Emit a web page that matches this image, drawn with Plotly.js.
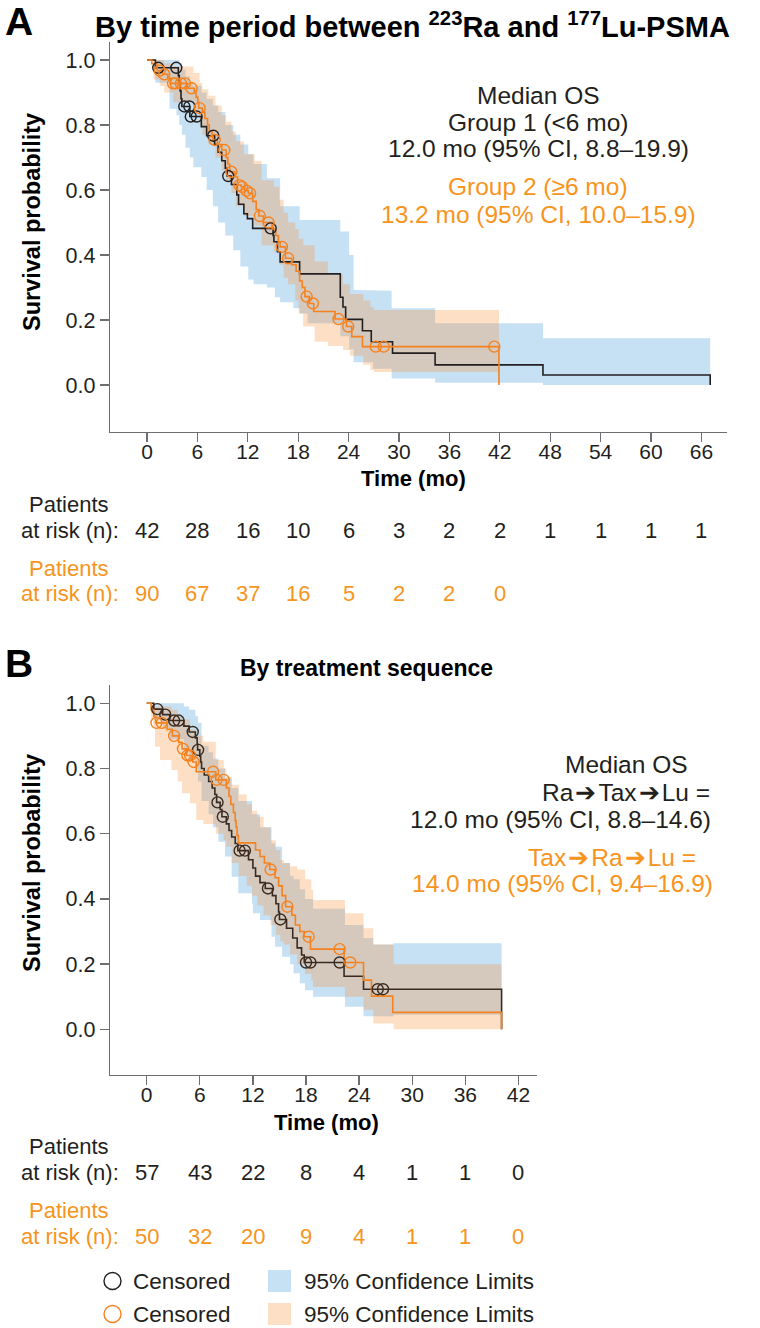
<!DOCTYPE html>
<html><head><meta charset="utf-8">
<script src="https://cdn.plot.ly/plotly-3.0.1.min.js"></script>
<style>html,body{margin:0;padding:0;background:#fff}</style>
</head><body><div id="chart" style="width:760px;height:1328px"></div>
<script>
// ---------- Panel A: by time period between 223Ra and 177Lu-PSMA ----------
const A_g1_time = [0, 1.0, 3.73, 3.84, 3.94, 4.05, 4.15, 5.10, 6.47, 7.10, 8.05, 8.47, 8.90, 9.32, 9.53, 10.05, 10.69, 10.90, 11.53, 11.95, 12.58, 15.01, 15.11, 15.53, 15.85, 18.17, 23.01, 23.33, 23.65, 25.65, 26.70, 29.23, 34.3, 47.14];
const A_g1_surv = [1.0, 0.976, 0.952, 0.929, 0.905, 0.881, 0.857, 0.826, 0.795, 0.767, 0.74, 0.716, 0.69, 0.667, 0.643, 0.617, 0.585, 0.556, 0.527, 0.512, 0.482, 0.46, 0.441, 0.41, 0.379, 0.342, 0.27, 0.24, 0.202, 0.167, 0.133, 0.098, 0.062, 0.031];
const A_g1_end = 67.05;
const A_g1_cens = [1.34, 3.49, 4.44, 5.04, 5.21, 5.91, 7.89, 9.67, 14.72];
const A_g1_ci_time = [0, 1.0, 2.68, 3.52, 3.84, 4.15, 4.58, 5.10, 5.52, 6.47, 7.10, 7.84, 8.47, 9.32, 10.27, 11.11, 12.06, 12.69, 14.27, 15.22, 15.85, 17.43, 18.17, 19.12, 23.01, 24.07, 24.59, 26.91, 29.12, 34.3, 47.14];
const A_g1_ci_low = [1.0, 0.93, 0.85, 0.83, 0.80, 0.77, 0.73, 0.70, 0.67, 0.64, 0.60, 0.55, 0.50, 0.46, 0.415, 0.365, 0.325, 0.31, 0.30, 0.27, 0.255, 0.236, 0.22, 0.19, 0.15, 0.11, 0.07, 0.05, 0.02, 0.007, 0.0];
const A_g1_ci_up = [1.0, 1.0, 1.0, 1.0, 0.99, 0.97, 0.95, 0.93, 0.92, 0.90, 0.88, 0.86, 0.84, 0.80, 0.77, 0.74, 0.71, 0.68, 0.636, 0.636, 0.55, 0.55, 0.508, 0.508, 0.472, 0.40, 0.292, 0.29, 0.236, 0.19, 0.144];

const A_g2_time = [0, 0.57, 1.2, 1.84, 2.47, 2.78, 4.79, 5.63, 5.84, 6.05, 6.16, 6.58, 6.89, 7.21, 7.42, 7.74, 7.84, 8.37, 8.90, 9.42, 9.63, 9.84, 10.48, 10.79, 11.21, 11.63, 12.06, 12.58, 13.0, 13.32, 13.85, 14.9, 15.32, 15.64, 15.85, 16.48, 17.22, 17.75, 18.17, 18.48, 18.80, 19.33, 19.85, 22.38, 23.75, 24.38, 25.65];
const A_g2_surv = [1.0, 0.989, 0.967, 0.956, 0.944, 0.928, 0.913, 0.90, 0.885, 0.87, 0.852, 0.84, 0.82, 0.80, 0.78, 0.765, 0.754, 0.74, 0.723, 0.70, 0.68, 0.656, 0.64, 0.615, 0.61, 0.598, 0.59, 0.565, 0.54, 0.52, 0.50, 0.48, 0.46, 0.44, 0.425, 0.39, 0.37, 0.35, 0.32, 0.30, 0.272, 0.251, 0.226, 0.203, 0.18, 0.149, 0.118];
const A_g2_end = 41.9;
const A_g2_cens = [1.52, 2.05, 3.1, 3.42, 4.05, 4.52, 5.31, 6.26, 8.05, 9.21, 10.05, 11.0, 11.32, 11.85, 12.27, 13.43, 14.48, 16.06, 16.8, 19.01, 19.75, 22.8, 23.96, 27.23, 28.18, 41.35];
const A_g2_ci_time = [0, 0.78, 1.52, 2.05, 3.1, 5.52, 6.26, 6.58, 7.31, 8.16, 8.9, 9.42, 10.05, 10.58, 11.53, 12.79, 13.64, 15.11, 15.74, 16.27, 16.8, 17.64, 18.06, 18.59, 19.96, 21.54, 23.33, 24.17, 25.75, 26.6, 27.02];
const A_g2_ci_low = [1.0, 0.94, 0.92, 0.90, 0.87, 0.84, 0.80, 0.77, 0.74, 0.70, 0.66, 0.63, 0.59, 0.55, 0.52, 0.49, 0.43, 0.41, 0.37, 0.33, 0.31, 0.26, 0.22, 0.18, 0.133, 0.12, 0.108, 0.09, 0.062, 0.046, 0.04];
const A_g2_ci_up = [1.0, 1.0, 1.0, 0.99, 0.98, 0.96, 0.93, 0.91, 0.89, 0.86, 0.83, 0.81, 0.78, 0.75, 0.71, 0.69, 0.63, 0.61, 0.57, 0.53, 0.50, 0.48, 0.45, 0.43, 0.38, 0.34, 0.31, 0.28, 0.26, 0.24, 0.231];

const A_risk_months = [0, 6, 12, 18, 24, 30, 36, 42, 48, 54, 60, 66];
const A_risk_g1 = [42, 28, 16, 10, 6, 3, 2, 2, 1, 1, 1, 1];
const A_risk_g2 = [90, 67, 37, 16, 5, 2, 2, 0];
const A_xticks = [0, 6, 12, 18, 24, 30, 36, 42, 48, 54, 60, 66];

// ---------- Panel B: by treatment sequence ----------
const B_g1_time = [0, 0.8, 1.8, 2.6, 4.2, 4.8, 5.5, 5.7, 5.75, 6.0, 6.1, 6.2, 6.5, 7.0, 7.4, 7.7, 7.9, 8.3, 8.5, 9.0, 9.3, 9.6, 10.0, 10.3, 11.5, 12.0, 12.3, 12.8, 13.4, 14.2, 14.6, 14.9, 15.0, 15.8, 16.5, 17.0, 17.5, 17.8, 22.3, 24.5];
const B_g1_surv = [1.0, 0.982, 0.965, 0.947, 0.93, 0.912, 0.894, 0.876, 0.857, 0.838, 0.82, 0.80, 0.78, 0.76, 0.74, 0.72, 0.696, 0.674, 0.652, 0.63, 0.61, 0.59, 0.57, 0.548, 0.52, 0.495, 0.47, 0.45, 0.432, 0.41, 0.385, 0.36, 0.337, 0.31, 0.28, 0.25, 0.228, 0.205, 0.163, 0.123];
const B_g1_end = 40.1;
const B_g1_cens = [1.2, 2.1, 3.1, 3.6, 5.2, 5.8, 8.0, 8.6, 10.5, 11.1, 13.7, 15.1, 18.0, 18.5, 21.8, 26.1, 26.7];
const B_g1_ci_time = [0, 0.8, 1.8, 2.6, 4.2, 4.8, 5.5, 5.8, 6.2, 7.0, 7.5, 8.1, 8.85, 9.6, 10.35, 11.9, 12.0, 12.8, 14.1, 14.5, 15.3, 16.2, 16.6, 17.3, 17.9, 18.8, 22.4, 24.5, 25.6, 27.9];
const B_g1_ci_low = [1.0, 0.95, 0.92, 0.89, 0.86, 0.83, 0.80, 0.76, 0.70, 0.66, 0.62, 0.575, 0.53, 0.468, 0.417, 0.386, 0.356, 0.335, 0.284, 0.253, 0.223, 0.20, 0.172, 0.141, 0.12, 0.10, 0.069, 0.04, 0.04, 0.045];
const B_g1_ci_up = [1.0, 1.0, 1.0, 1.0, 0.99, 0.98, 0.96, 0.94, 0.87, 0.85, 0.83, 0.80, 0.77, 0.74, 0.70, 0.66, 0.66, 0.62, 0.57, 0.56, 0.51, 0.47, 0.46, 0.43, 0.40, 0.37, 0.32, 0.28, 0.26, 0.264];

const B_g2_time = [0, 0.5, 0.8, 1.0, 2.3, 2.9, 3.6, 4.0, 4.5, 5.2, 5.6, 7.8, 9.0, 9.3, 9.5, 9.8, 10.0, 10.1, 10.2, 10.35, 12.3, 12.8, 13.3, 13.9, 14.5, 14.9, 15.3, 15.7, 16.4, 16.8, 17.3, 17.8, 18.5, 22.3, 24.5, 25.4, 27.8];
const B_g2_surv = [1.0, 0.98, 0.96, 0.94, 0.92, 0.90, 0.88, 0.86, 0.84, 0.82, 0.79, 0.765, 0.74, 0.715, 0.69, 0.665, 0.64, 0.62, 0.595, 0.572, 0.55, 0.53, 0.51, 0.49, 0.465, 0.44, 0.41, 0.376, 0.35, 0.32, 0.30, 0.284, 0.246, 0.205, 0.151, 0.102, 0.052];
const B_g2_end = 40.1;
const B_g2_cens = [1.1, 1.7, 3.1, 4.1, 4.6, 4.9, 5.3, 7.5, 7.9, 8.7, 14.0, 15.9, 18.3, 21.8, 23.0];
const B_g2_ci_time = [0, 0.5, 0.75, 0.94, 1.5, 2.8, 3.5, 4.0, 4.9, 5.6, 6.4, 7.8, 8.7, 9.0, 9.6, 10.4, 11.3, 11.9, 12.5, 13.2, 14.0, 14.6, 15.1, 15.5, 16.2, 17.0, 17.9, 18.6, 18.8, 22.4, 24.5, 25.6, 27.9];
const B_g2_ci_low = [1.0, 0.95, 0.928, 0.867, 0.826, 0.795, 0.76, 0.724, 0.693, 0.642, 0.63, 0.60, 0.58, 0.56, 0.51, 0.47, 0.44, 0.41, 0.38, 0.35, 0.32, 0.29, 0.27, 0.26, 0.23, 0.20, 0.17, 0.15, 0.13, 0.10, 0.06, 0.018, 0.0];
const B_g2_ci_up = [1.0, 1.0, 1.0, 0.99, 0.99, 0.98, 0.96, 0.95, 0.92, 0.90, 0.882, 0.826, 0.80, 0.775, 0.75, 0.72, 0.69, 0.67, 0.652, 0.62, 0.58, 0.55, 0.519, 0.51, 0.50, 0.49, 0.46, 0.427, 0.397, 0.356, 0.31, 0.26, 0.20];

const B_risk_months = [0, 6, 12, 18, 24, 30, 36, 42];
const B_risk_g1 = [57, 43, 22, 8, 4, 1, 1, 0];
const B_risk_g2 = [50, 32, 20, 9, 4, 1, 1, 0];
const B_xticks = [0, 6, 12, 18, 24, 30, 36, 42];

const Y_ticks = [0, 0.2, 0.4, 0.6, 0.8, 1.0];
const Y_ticktext = ['0.0', '0.2', '0.4', '0.6', '0.8', '1.0'];

// ---------- styling ----------
const W = 760, H = 1328;
const FONT = 'Liberation Sans, Arial, Helvetica, sans-serif';
const BLACK = '#231f20', BLACK_B = '#3a2a20', ORANGE = '#f5821f', ORANGE_TXT = '#f7941d';
const BLUE_BAND = 'rgb(198,224,244)', PEACH_BAND = 'rgba(247,148,62,0.30)';
const AXC = '#6d6e71';

function stepLine(t, s, tEnd) {
  const x = t.slice(), y = s.slice();
  x.push(tEnd); y.push(s[s.length - 1]);
  x.push(tEnd); y.push(0);
  return {x, y};
}
function band(t, lo, up, tEnd) {
  const x = [], y = [];
  for (let i = 0; i < t.length; i++) {
    if (i > 0) { x.push(t[i]); y.push(up[i - 1]); }
    x.push(t[i]); y.push(up[i]);
  }
  x.push(tEnd); y.push(up[up.length - 1]);
  x.push(tEnd); y.push(lo[lo.length - 1]);
  for (let i = t.length - 1; i >= 0; i--) {
    x.push(t[i]); y.push(lo[i]);
    if (i > 0) { x.push(t[i]); y.push(lo[i - 1]); }
  }
  return {x, y};
}
function survAt(t, s, tc) {
  let v = s[0];
  for (let i = 0; i < t.length; i++) if (t[i] <= tc) v = s[i];
  return v;
}
function bandTrace(t, lo, up, tEnd, color, xa, ya) {
  const b = band(t, lo, up, tEnd);
  return {type: 'scatter', mode: 'lines', x: b.x, y: b.y, fill: 'toself', fillcolor: color,
    line: {width: 0, color: color}, hoverinfo: 'skip', showlegend: false, xaxis: xa, yaxis: ya};
}
function lineTrace(t, s, tEnd, color, xa, ya) {
  const l = stepLine(t, s, tEnd);
  return {type: 'scatter', mode: 'lines', x: l.x, y: l.y, line: {shape: 'hv', width: 1.6, color: color},
    showlegend: false, xaxis: xa, yaxis: ya};
}
function censTrace(t, s, cens, color, xa, ya) {
  return {type: 'scatter', mode: 'markers', x: cens, y: cens.map(c => survAt(t, s, c)),
    marker: {symbol: 'circle-open', size: 11, line: {width: 1.4, color: color}, color: color},
    showlegend: false, xaxis: xa, yaxis: ya};
}

const traces = [
  bandTrace(A_g1_ci_time, A_g1_ci_low, A_g1_ci_up, A_g1_end, BLUE_BAND, 'x', 'y'),
  bandTrace(A_g2_ci_time, A_g2_ci_low, A_g2_ci_up, A_g2_end, PEACH_BAND, 'x', 'y'),
  lineTrace(A_g1_time, A_g1_surv, A_g1_end, BLACK, 'x', 'y'),
  lineTrace(A_g2_time, A_g2_surv, A_g2_end, ORANGE, 'x', 'y'),
  censTrace(A_g1_time, A_g1_surv, A_g1_cens, BLACK, 'x', 'y'),
  censTrace(A_g2_time, A_g2_surv, A_g2_cens, ORANGE, 'x', 'y'),
  bandTrace(B_g1_ci_time, B_g1_ci_low, B_g1_ci_up, B_g1_end, BLUE_BAND, 'x2', 'y2'),
  bandTrace(B_g2_ci_time, B_g2_ci_low, B_g2_ci_up, B_g2_end, PEACH_BAND, 'x2', 'y2'),
  lineTrace(B_g1_time, B_g1_surv, B_g1_end, BLACK_B, 'x2', 'y2'),
  lineTrace(B_g2_time, B_g2_surv, B_g2_end, ORANGE, 'x2', 'y2'),
  censTrace(B_g1_time, B_g1_surv, B_g1_cens, BLACK_B, 'x2', 'y2'),
  censTrace(B_g2_time, B_g2_surv, B_g2_cens, ORANGE, 'x2', 'y2')
];

const px = v => v / W, py = v => 1 - v / H;
function xAxis(dom, range, ticks, anchor) {
  return {domain: [px(dom[0]), px(dom[1])], range: range, tickvals: ticks, ticktext: ticks.map(String),
    ticks: 'outside', ticklen: 9, tickwidth: 1.3, tickcolor: AXC, showline: true, linecolor: AXC, linewidth: 1.3,
    ticklabelstandoff: -9,
    showgrid: false, zeroline: false, tickfont: {family: FONT, size: 21, color: BLACK}, anchor: anchor, fixedrange: true};
}
function yAxis(dom, range, anchor) {
  return {domain: [py(dom[1]), py(dom[0])], range: range, tickvals: Y_ticks, ticktext: Y_ticktext,
    ticks: 'outside', ticklen: 9, tickwidth: 1.3, tickcolor: AXC, showline: true, linecolor: AXC, linewidth: 1.3,
    showgrid: false, zeroline: false, tickfont: {family: FONT, size: 21.5, color: BLACK}, anchor: anchor, fixedrange: true};
}

function ann(text, x, y, size, color, opts) {
  return Object.assign({xref: 'paper', yref: 'paper', x: px(x), y: py(y), text: text, showarrow: false,
    xanchor: 'center', yanchor: 'middle', font: {family: FONT, size: size, color: color}}, opts || {});
}

const MS = 24.5;
const HS = '\u200A';
const annotations = [
  ann('<b>A</b>', 19, 22, 39, '#000'),
  ann('<b>By time period between <sup>223</sup>Ra and <sup>177</sup>Lu-PSMA</b>', 412, 25, 29, '#000'),
  ann('<b>B</b>', 19, 663, 39, '#000'),
  ann('<b>By treatment sequence</b>', 366, 668, 23, '#000'),
  ann('<b>Survival probability</b>', 32, 222, 23.5, '#000', {textangle: -90}),
  ann('<b>Survival probability</b>', 32, 863, 23.5, '#000', {textangle: -90}),
  ann('<b>Time (mo)</b>', 413, 479, 22, '#000'),
  ann('<b>Time (mo)</b>', 326, 1122, 22, '#000'),
  // median OS, panel A
  ann('Median OS', 538, 95, MS, BLACK),
  ann('Group 1 (&lt;6 mo)', 538, 122, MS, BLACK),
  ann('12.0 mo (95% CI, 8.8–19.9)', 538, 149, MS, BLACK),
  ann('Group 2 (≥6 mo)', 538, 187, MS, ORANGE_TXT),
  ann('13.2 mo (95% CI, 10.0–15.9)', 538, 214, MS, ORANGE_TXT),
  // median OS, panel B
  ann('Median OS', 626, 765, MS, BLACK),
  ann('Ra' + HS + '➔' + HS + 'Tax' + HS + '➔' + HS + 'Lu =', 626, 792, MS, BLACK),
  ann('12.0 mo (95% CI, 8.8–14.6)', 560, 819, MS, BLACK),
  ann('Tax' + HS + '➔' + HS + 'Ra' + HS + '➔' + HS + 'Lu =', 612, 857, MS, ORANGE_TXT),
  ann('14.0 mo (95% CI, 9.4–16.9)', 562, 884, MS, ORANGE_TXT),
  // at risk labels
  ann('Patients', 69, 505, 22, BLACK),
  ann('at risk (n):', 70, 530, 22, BLACK),
  ann('Patients', 69, 568, 22, ORANGE_TXT),
  ann('at risk (n):', 70, 593, 22, ORANGE_TXT),
  ann('Patients', 69, 1146, 22, BLACK),
  ann('at risk (n):', 70, 1172, 22, BLACK),
  ann('Patients', 69, 1210, 22, ORANGE_TXT),
  ann('at risk (n):', 70, 1236, 22, ORANGE_TXT),
  // legend text
  ann('Censored', 131, 1281, 22.5, BLACK, {xanchor: 'left'}),
  ann('Censored', 131, 1314, 22.5, BLACK, {xanchor: 'left'}),
  ann('95% Confidence Limits', 302, 1281, 22.5, BLACK, {xanchor: 'left'}),
  ann('95% Confidence Limits', 302, 1314, 22.5, BLACK, {xanchor: 'left'})
];
function riskRow(months, vals, xref, ypx, color) {
  vals.forEach((v, i) => annotations.push({xref: xref, yref: 'paper', x: months[i], y: py(ypx), text: String(v),
    showarrow: false, xanchor: 'center', yanchor: 'middle', font: {family: FONT, size: 22, color: color}}));
}
riskRow(A_risk_months, A_risk_g1, 'x', 530, BLACK);
riskRow(A_risk_months, A_risk_g2, 'x', 593, ORANGE_TXT);
riskRow(B_risk_months, B_risk_g1, 'x2', 1172, BLACK);
riskRow(B_risk_months, B_risk_g2, 'x2', 1236, ORANGE_TXT);

const shapes = [
  {type: 'circle', xref: 'paper', yref: 'paper', x0: px(104), x1: px(121), y0: py(1289.5), y1: py(1272.5), line: {color: BLACK, width: 1.4}},
  {type: 'circle', xref: 'paper', yref: 'paper', x0: px(104), x1: px(121), y0: py(1322.5), y1: py(1305.5), line: {color: ORANGE, width: 1.4}},
  {type: 'rect', xref: 'paper', yref: 'paper', x0: px(268), x1: px(291), y0: py(1292), y1: py(1270), line: {width: 0}, fillcolor: BLUE_BAND},
  {type: 'rect', xref: 'paper', yref: 'paper', x0: px(268), x1: px(291), y0: py(1325), y1: py(1303), line: {width: 0}, fillcolor: 'rgb(253,223,198)'}
];

const layout = {
  width: W, height: H, margin: {l: 0, r: 0, t: 0, b: 0}, paper_bgcolor: '#fff', plot_bgcolor: 'rgba(0,0,0,0)',
  showlegend: false, font: {family: FONT, color: BLACK},
  xaxis: xAxis([110, 727], [-4.405, 69.05], A_xticks, 'y'),
  yaxis: yAxis([42, 432], [-0.1446, 1.0554], 'x'),
  xaxis2: xAxis([110, 537], [-4.147, 44.1], B_xticks, 'y2'),
  yaxis2: yAxis([685, 1075], [-0.140, 1.056], 'x2'),
  annotations: annotations, shapes: shapes
};
Plotly.newPlot('chart', traces, layout, {displayModeBar: false, staticPlot: true});
</script></body></html>
